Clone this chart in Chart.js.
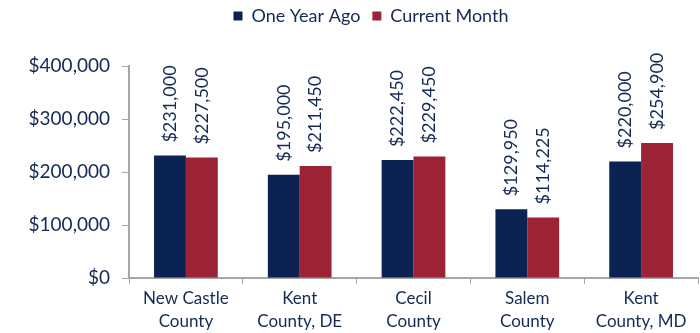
<!DOCTYPE html>
<html>
<head>
<meta charset="utf-8">
<script src="https://cdn.jsdelivr.net/npm/chart.js@4"></script>
<style>
  html, body { margin: 0; padding: 0; background: #fff; }
  #wrap { width: 700px; height: 333px; }
</style>
</head>
<body>
<div id="wrap"><canvas id="priceChart" width="700" height="333"></canvas></div>
<script>
var counties = [['New Castle', 'County'], ['Kent', 'County, DE'], ['Cecil', 'County'], ['Salem', 'County'], ['Kent', 'County, MD']];
var oneYearAgo = [231000, 195000, 222450, 129950, 220000];
var currentMonth = [227500, 211450, 229450, 114225, 254900];
var yTicks = [0, 100000, 200000, 300000, 400000];

var textColor = '#142a55';
var axisColor = '#a6a6a6';
var fontFamily = 'Lato, "Open Sans", sans-serif';

function money(v) {
    return '$' + v.toLocaleString('en-US');
}

// writes each value vertically just above its bar
var barLabels = {
    id: 'barLabels',
    afterDatasetsDraw: function (chart) {
        var ctx = chart.ctx;
        ctx.save();
        ctx.fillStyle = textColor;
        ctx.font = '18px ' + fontFamily;
        ctx.textAlign = 'left';
        ctx.textBaseline = 'middle';
        chart.data.datasets.forEach(function (ds, i) {
            chart.getDatasetMeta(i).data.forEach(function (bar, j) {
                ctx.save();
                ctx.translate(bar.x, bar.y - 13);
                ctx.rotate(-Math.PI / 2);
                ctx.fillText(money(ds.data[j]), 0, 0);
                ctx.restore();
            });
        });
        ctx.restore();
    }
};

// leaves room between the legend and the plot for the tall value labels,
// and centres the legend over the plot rather than the whole canvas
var legendGap = {
    id: 'legendGap',
    beforeInit: function (chart) {
        var fit = chart.legend.fit;
        chart.legend.fit = function () {
            fit.call(this);
            this.height = 71;
        };
    },
    afterLayout: function (chart) {
        chart.legend.left += 22;
        chart.legend.right += 22;
    }
};

var ctx = document.getElementById('priceChart').getContext('2d');
new Chart(ctx, {
    type: 'bar',
    data: {
        labels: counties,
        datasets: [{
            label: 'One Year Ago',
            data: oneYearAgo,
            backgroundColor: '#0b2252'
        }, {
            label: 'Current Month',
            data: currentMonth,
            backgroundColor: '#9c2236'
        }]
    },
    options: {
        responsive: false,
        animation: false,
        layout: { padding: { top: -5, right: 2, left: 0, bottom: 0 } },
        datasets: {
            bar: { categoryPercentage: 0.56, barPercentage: 1.0 }
        },
        plugins: {
            tooltip: { enabled: false },
            legend: {
                position: 'top',
                align: 'center',
                labels: {
                    boxWidth: 9,
                    boxHeight: 9,
                    padding: 12,
                    color: textColor,
                    font: { size: 18, family: fontFamily }
                }
            }
        },
        scales: {
            x: {
                grid: {
                    offset: true,
                    drawOnChartArea: false,
                    drawTicks: true,
                    tickLength: 6,
                    color: axisColor
                },
                border: { color: axisColor, width: 2 },
                ticks: {
                    color: textColor,
                    font: { size: 17, family: fontFamily, lineHeight: 1.35 },
                    padding: 3,
                    maxRotation: 0
                },
                afterFit: function (scale) { scale.height = 55; }
            },
            y: {
                min: 0,
                max: 400000,
                afterBuildTicks: function (scale) {
                    scale.ticks = yTicks.map(function (v) { return { value: v }; });
                },
                grid: {
                    drawOnChartArea: false,
                    drawTicks: true,
                    tickLength: 7,
                    color: axisColor
                },
                border: { color: axisColor, width: 2 },
                ticks: {
                    color: textColor,
                    font: { size: 19, family: fontFamily },
                    padding: 12,
                    callback: function (v) { return money(v); }
                },
                afterFit: function (scale) { scale.width = 129; }
            }
        }
    },
    plugins: [legendGap, barLabels]
});
</script>
</body>
</html>
